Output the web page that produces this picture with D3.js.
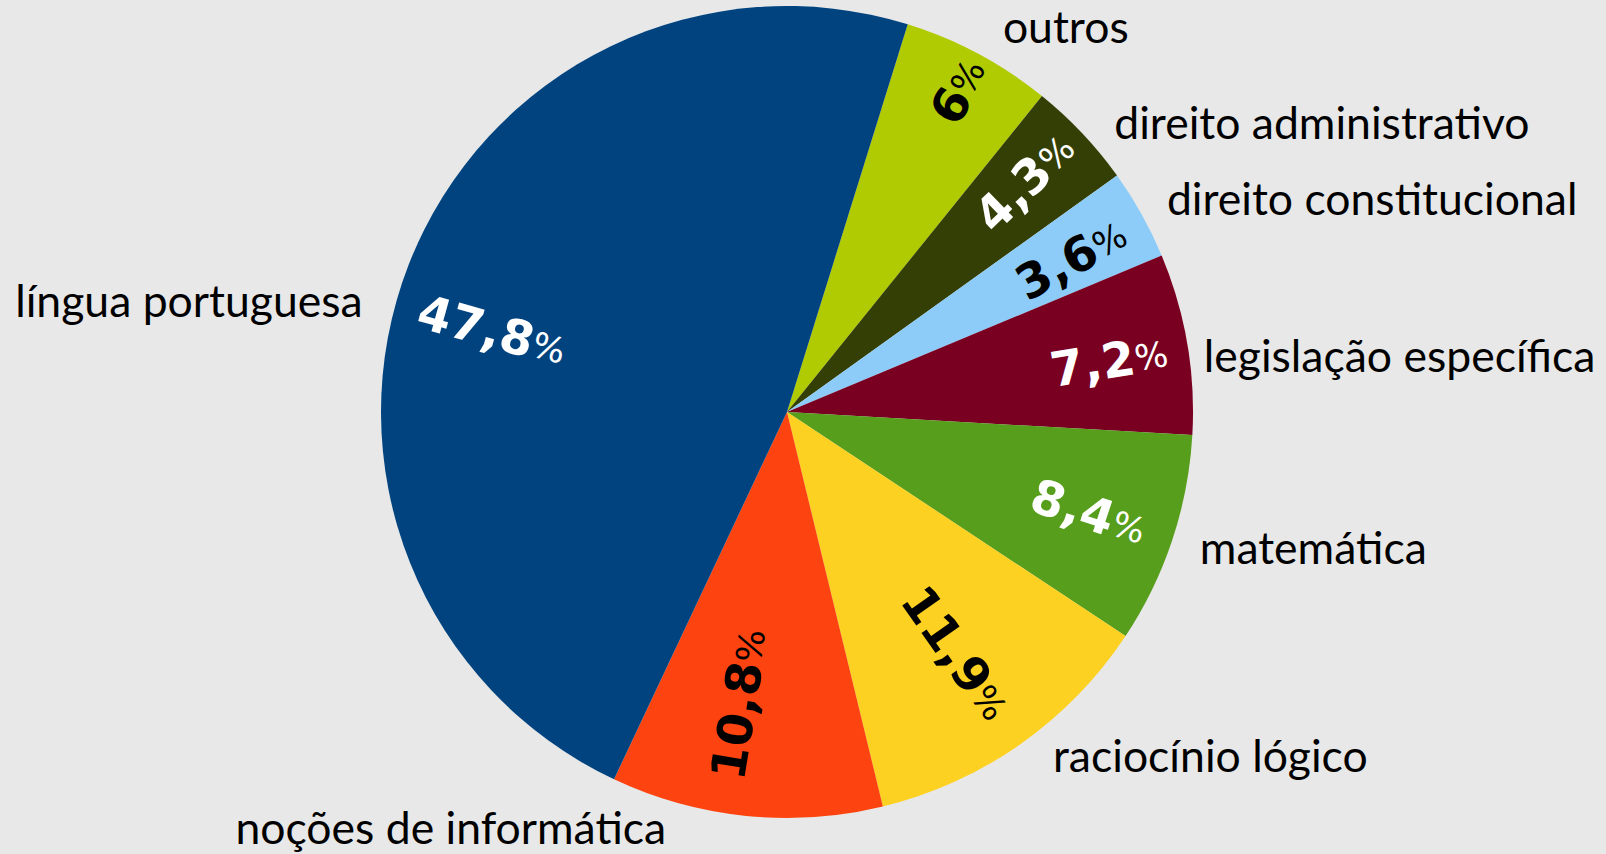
<!DOCTYPE html>
<html>
<head>
<meta charset="utf-8">
<script src="https://cdn.jsdelivr.net/npm/d3@7"></script>
<style>
    html, body { margin: 0; padding: 0; background: #e8e8e8; }
    svg { display: block; }
</style>
</head>
<body>
<div id="chart"></div>
<script>
// Categories in clockwise order, starting just right of 12 o'clock
const categories = ['outros', 'direito administrativo', 'direito constitucional',
    'legislação específica', 'matemática', 'raciocínio lógico',
    'noções de informática', 'língua portuguesa'];
const values = [6, 4.3, 3.6, 7.2, 8.4, 11.9, 10.8, 47.8];
const valueLabels = ['6', '4,3', '3,6', '7,2', '8,4', '11,9', '10,8', '47,8'];

const colors = ['#b1cb02', '#343f06', '#8dccf8', '#7a0022', '#569e1b', '#fcd122', '#fd4410', '#01437f'];
const pctColors = ['#000', '#fff', '#000', '#fff', '#fff', '#000', '#000', '#fff'];

// small hand placement tweaks, like the original slide
const nameNudge = {
    'outros': [11, 0],
    'direito administrativo': [11, 11],
    'legislação específica': [-12, 18],
    'raciocínio lógico': [16, -11],
    'noções de informática': [-77, -16],
    'língua portuguesa': [-19, 48]
};
// [angle shift in degrees, radius shift]
const pctNudge = {
    'outros': [0, 46],
    'direito administrativo': [-0.7, 13],
    'direito constitucional': [0.8, 5],
    'legislação específica': [0.7, 8],
    'raciocínio lógico': [0, -23],
    'noções de informática': [3.5, -22],
    'língua portuguesa': [-5.8, -12]
};

const data = categories.map((c, i) => ({ name: c, value: values[i], label: valueLabels[i], i: i }));

const width = 1606;
const height = 854;
const cx = 787;
const cy = 412;
const radius = 406;

const svg = d3.select('#chart').append('svg')
    .attr('width', width)
    .attr('height', height);

svg.append('rect')
    .attr('width', width)
    .attr('height', height)
    .attr('fill', '#e8e8e8');

const startAngle = 17.3 * Math.PI / 180;

const pie = d3.pie()
    .sort(null)
    .value(d => d.value)
    .startAngle(startAngle)
    .endAngle(startAngle + 2 * Math.PI);

const arc = d3.arc()
    .innerRadius(0)
    .outerRadius(radius);

const arcs = pie(data);

const g = svg.append('g')
    .attr('transform', `translate(${cx},${cy})`);

// Slices
g.selectAll('path.slice')
    .data(arcs)
    .enter()
    .append('path')
    .attr('class', 'slice')
    .attr('d', arc)
    .attr('fill', d => colors[d.data.i]);

// Percent labels, rotated along the radius
const pctRadius = 318;
g.selectAll('text.pct')
    .data(arcs)
    .enter()
    .append('text')
    .attr('class', 'pct')
    .attr('text-anchor', 'middle')
    .attr('dominant-baseline', 'central')
    .attr('fill', d => pctColors[d.data.i])
    .attr('transform', d => {
        const nudge = pctNudge[d.data.name] || [0, 0];
        const deg = (d.startAngle + d.endAngle) / 2 * 180 / Math.PI + nudge[0];
        const a = deg * Math.PI / 180;
        const r = pctRadius + nudge[1];
        const x = r * Math.sin(a);
        const y = -r * Math.cos(a);
        let rot = deg % 360 < 180 ? deg - 90 : deg + 90;
        return `translate(${x},${y}) rotate(${rot})`;
    })
    .each(function(d) {
        const t = d3.select(this);
        t.append('tspan')
            .attr('font-family', '"DejaVu Sans", Verdana, sans-serif')
            .attr('font-weight', 'bold')
            .attr('font-size', 48)
            .text(d.data.label);
        t.append('tspan')
            .attr('font-family', '"DejaVu Sans", Verdana, sans-serif')
            .attr('font-size', 35)
            .attr('dy', 2)
            .text('%');
    });

// Category names outside the pie
const nameRadius = 435;
g.selectAll('text.name')
    .data(arcs)
    .enter()
    .append('text')
    .attr('class', 'name')
    .attr('font-family', 'Lato, "Open Sans", sans-serif')
    .attr('font-size', 44.5)
    .attr('fill', '#000')
    .attr('text-anchor', d => {
        const mid = (d.startAngle + d.endAngle) / 2 % (2 * Math.PI);
        return mid < Math.PI ? 'start' : 'end';
    })
    .attr('x', d => {
        const mid = (d.startAngle + d.endAngle) / 2;
        const nudge = nameNudge[d.data.name] || [0, 0];
        return nameRadius * Math.sin(mid) + nudge[0];
    })
    .attr('y', d => {
        const mid = (d.startAngle + d.endAngle) / 2;
        const nudge = nameNudge[d.data.name] || [0, 0];
        return -nameRadius * Math.cos(mid) + nudge[1];
    })
    .attr('dy', '0.34em')
    .text(d => d.data.name);
</script>
</body>
</html>
